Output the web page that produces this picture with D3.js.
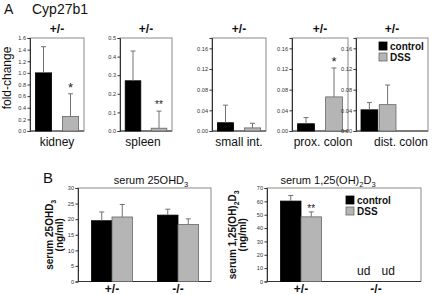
<!DOCTYPE html>
<html><head><meta charset="utf-8">
<script src="https://cdn.jsdelivr.net/npm/d3@7"></script>
<style>body{margin:0;background:#fff}svg{display:block;font-family:Arial,"Liberation Sans",sans-serif}</style>
</head><body>
<script>
// ---------- DATA ----------
const tissues = ["kidney", "spleen", "small int.", "prox. colon", "dist. colon"];
const panelGenotypeA = ["+/-", "+/-", "+/-", "+/-", "+/-"];
const controlFold = [1.0, 0.27, 0.016, 0.014, 0.041];
const controlFoldErr = [0.45, 0.16, 0.034, 0.012, 0.014];
const dssFold = [0.25, 0.015, 0.006, 0.066, 0.051];
const dssFoldErr = [0.39, 0.092, 0.009, 0.056, 0.038];
const dssSignifA = ["*", "**", "", "*", ""];
const yMaxA = [1.6, 0.5, 0.18, 0.18, 0.18];
const yTicksA = [
  [0, 0.2, 0.4, 0.6, 0.8, 1.0, 1.2, 1.4, 1.6],
  [0, 0.1, 0.2, 0.3, 0.4, 0.5],
  [0, 0.04, 0.08, 0.12, 0.16],
  [0, 0.04, 0.08, 0.12, 0.16],
  [0, 0.04, 0.08, 0.12, 0.16]
];
const tickFmtA = [".1f", ".1f", ".2f", ".2f", ".2f"];

const genotypes = ["+/-", "-/-"];
const serum25Control = [19.5, 21.3];
const serum25ControlErr = [2.8, 1.9];
const serum25DSS = [20.7, 18.3];
const serum25DSSErr = [4.0, 1.8];
const serum125Control = [60.2, null];
const serum125ControlErr = [4.2, null];
const serum125DSS = [48.4, null];
const serum125DSSErr = [3.7, null];
const serum125Signif = ["**", ""];
const ticks25 = [0, 5, 10, 15, 20, 25, 30];
const ticks125 = [0, 10, 20, 30, 40, 50, 60, 70];
const seriesNames = ["control", "DSS"];

// ---------- STYLE / LAYOUT ----------
const colors = {control: "#000", DSS: "#b5b5b5"};
const strokes = {control: "#000", DSS: "#666"};
const errColor = "#727272";
const frameColor = "#8a8a8a";

const svg = d3.select("body").append("svg").attr("width", 432).attr("height", 295);

function frameAndAxis(g, x0, x1, yScale, ticks, fmt) {
  const [yb, yt] = yScale.range();
  g.append("rect").attr("x", x0).attr("y", yt).attr("width", x1 - x0).attr("height", yb - yt)
    .attr("fill", "none").attr("stroke", frameColor).attr("stroke-width", 1);
  g.append("line").attr("x1", x0).attr("x2", x1).attr("y1", yb).attr("y2", yb)
    .attr("stroke", "#333");
  const ax = g.append("g").attr("transform", `translate(${x0},0)`)
    .call(d3.axisLeft(yScale).tickValues(ticks).tickFormat(d3.format(fmt)).tickSize(2.5).tickPadding(1.5));
  ax.attr("font-size", 5.6).attr("font-family", "Arial, 'Liberation Sans', sans-serif");
  ax.selectAll("text").attr("fill", "#333");
  ax.select(".domain").attr("stroke", "#333");
  ax.selectAll(".tick line").attr("stroke", "#333");
}

function bar(g, x, w, yScale, v, err, key) {
  const y0 = yScale(0);
  g.append("rect").attr("x", x).attr("y", yScale(v)).attr("width", w).attr("height", y0 - yScale(v))
    .attr("fill", colors[key]).attr("stroke", strokes[key]).attr("stroke-width", 0.8);
  const cx = x + w / 2;
  g.append("line").attr("x1", cx).attr("x2", cx).attr("y1", yScale(v)).attr("y2", yScale(v + err))
    .attr("stroke", errColor).attr("stroke-width", 1);
  g.append("line").attr("x1", cx - 2.5).attr("x2", cx + 2.5).attr("y1", yScale(v + err)).attr("y2", yScale(v + err))
    .attr("stroke", errColor).attr("stroke-width", 1);
}

function legend(g, x, y) {
  seriesNames.forEach((s, i) => {
    g.append("rect").attr("x", x).attr("y", y + i * 11).attr("width", 8).attr("height", 8)
      .attr("fill", colors[s]).attr("stroke", strokes[s]).attr("stroke-width", 0.8);
    g.append("text").attr("x", x + 11).attr("y", y + i * 11 + 7.5).text(s)
      .attr("font-size", 10).attr("font-weight", "bold").attr("fill", "#111");
  });
}

// ---------- PANEL A ----------
const gA = svg.append("g");
gA.append("text").attr("x", 4).attr("y", 14).text("A").attr("font-size", 14).attr("fill", "#111");
gA.append("text").attr("x", 32).attr("y", 14).text("Cyp27b1").attr("font-size", 14).attr("fill", "#111");
gA.append("text").attr("transform", "translate(11,78) rotate(-90)").attr("text-anchor", "middle")
  .text("fold-change").attr("font-size", 12).attr("fill", "#111");

const framesA = [[30, 84], [120, 172], [212, 266], [292, 348], [356, 428]];
const labelShiftA = [0, -3, 0, 3, 9];
tissues.forEach((t, i) => {
  const [x0, x1] = framesA[i];
  const y = d3.scaleLinear().domain([0, yMaxA[i]]).range([131, 38]);
  frameAndAxis(gA, x0, x1, y, yTicksA[i], tickFmtA[i]);
  let xb;
  if (i === 4) xb = d3.scaleBand().domain(seriesNames).range([x0 + 5, x0 + 40]).paddingInner(0.08);
  else xb = d3.scaleBand().domain(seriesNames).range([x0, x1]).paddingInner(0.4).paddingOuter(0.2);
  bar(gA, xb("control"), xb.bandwidth(), y, controlFold[i], controlFoldErr[i], "control");
  bar(gA, xb("DSS"), xb.bandwidth(), y, dssFold[i], dssFoldErr[i], "DSS");
  if (dssSignifA[i]) {
    const dbl = dssSignifA[i].length > 1;
    gA.append("text").attr("x", xb("DSS") + xb.bandwidth() / 2)
      .attr("y", y(dssFold[i] + dssFoldErr[i]) - (dbl ? 3 : 2))
      .attr("text-anchor", "middle").text(dssSignifA[i]).attr("font-size", dbl ? 10 : 13).attr("fill", "#222");
  }
  gA.append("text").attr("x", (x0 + x1) / 2).attr("y", 33).attr("text-anchor", "middle")
    .text(panelGenotypeA[i]).attr("font-size", 12).attr("font-weight", "bold").attr("fill", "#111");
  gA.append("text").attr("x", (x0 + x1) / 2 + labelShiftA[i]).attr("y", 146).attr("text-anchor", "middle")
    .text(t).attr("font-size", 12).attr("fill", "#111");
});
legend(gA, 379, 42);

// ---------- PANEL B ----------
const gB = svg.append("g");
gB.append("text").attr("x", 43).attr("y", 183).text("B").attr("font-size", 15).attr("fill", "#111");

function panelB(x0, x1, yMax, ticks, ctrl, ctrlErr, dss, dssErr, signif, title, titleX, ylab, ylabX, padL, padR) {
  const y = d3.scaleLinear().domain([0, yMax]).range([281.5, 188]);
  frameAndAxis(gB, x0, x1, y, ticks, "d");
  const xg = d3.scalePoint().domain(genotypes).range([x0 + padL, x1 - padR]);
  const bw = 20.5;
  genotypes.forEach((gt, i) => {
    const c = xg(gt);
    if (ctrl[i] != null) {
      bar(gB, c - bw, bw, y, ctrl[i], ctrlErr[i], "control");
      bar(gB, c, bw, y, dss[i], dssErr[i], "DSS");
      if (signif[i]) gB.append("text").attr("x", c + bw / 2).attr("y", y(dss[i] + dssErr[i]) + 0.5)
        .attr("text-anchor", "middle").text(signif[i]).attr("font-size", 10).attr("fill", "#222");
    } else {
      [c - bw / 2 - 2, c + bw / 2 + 2].forEach(xx => gB.append("text").attr("x", xx).attr("y", 275)
        .attr("text-anchor", "middle").text("ud").attr("font-size", 12).attr("fill", "#111"));
    }
    gB.append("text").attr("x", c).attr("y", 293).attr("text-anchor", "middle").text(gt)
      .attr("font-size", 12).attr("font-weight", "bold").attr("fill", "#111");
  });
  const tt = gB.append("text").attr("x", titleX).attr("y", 184).attr("text-anchor", "middle")
    .attr("font-size", 11).attr("fill", "#111");
  title.forEach(([s, sub]) => tt.append("tspan").text(s).attr("font-size", sub ? 7.5 : 11).attr("dy", sub ? 3 : (sub === false ? -3 : 0)));
  const yl = gB.append("text").attr("transform", `translate(${ylabX},${y(yMax / 2)}) rotate(-90)`)
    .attr("text-anchor", "middle").attr("font-size", 10).attr("font-weight", "bold").attr("fill", "#111");
  ylab.forEach(([s, sub]) => yl.append("tspan").text(s).attr("font-size", sub ? 7 : 10).attr("dy", sub ? 3 : (sub === false ? -3 : 0)));
  gB.append("text").attr("transform", `translate(${ylabX + 10},${y(yMax / 2)}) rotate(-90)`)
    .attr("text-anchor", "middle").attr("font-size", 10).attr("font-weight", "bold").attr("fill", "#111").text("(ng/ml)");
}

panelB(78, 211, 30, ticks25, serum25Control, serum25ControlErr, serum25DSS, serum25DSSErr, ["", ""],
  [["serum 25OHD", null], ["3", true]], 151,
  [["serum 25OHD", null], ["3", true]], 53, 34, 33);
panelB(267, 421, 70, ticks125, serum125Control, serum125ControlErr, serum125DSS, serum125DSSErr, serum125Signif,
  [["serum 1,25(OH)", null], ["2", true], ["D", false], ["3", true]], 328,
  [["serum 1,25(OH)", null], ["2", true], ["D", false], ["3", true]], 236, 34, 45);
legend(gB, 346, 196);
</script>
</body></html>
